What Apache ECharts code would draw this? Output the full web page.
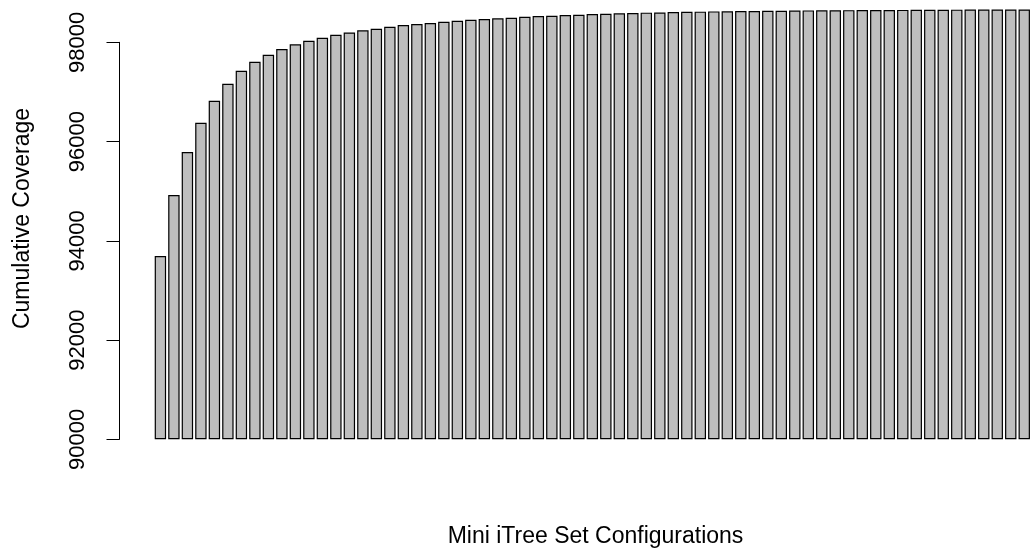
<!DOCTYPE html>
<html>
<head>
<meta charset="utf-8">
<style>
  html, body { margin: 0; padding: 0; background: #ffffff; }
  #chart { width: 1031px; height: 552px; }
</style>
<script src="https://cdn.jsdelivr.net/npm/echarts@6/dist/echarts.min.js"></script>
</head>
<body>
<div id="chart"></div>
<script>
// Cumulative coverage for each successive mini iTree set configuration
const configurations = Array.from({ length: 65 }, (_, i) => 'Config ' + (i + 1));
const cumulativeCoverage = [
  93694, 94923, 95789, 96380, 96823, 97166, 97428, 97609, 97750, 97865,
  97960, 98032, 98093, 98153, 98197, 98242, 98274, 98314, 98349, 98369,
  98389, 98415, 98435, 98455, 98470, 98484, 98496, 98516, 98530, 98536,
  98550, 98556, 98570, 98576, 98584, 98590, 98597, 98600, 98610, 98616,
  98618, 98623, 98625, 98630, 98631, 98636, 98637, 98639, 98643, 98644,
  98646, 98648, 98649, 98651, 98652, 98653, 98655, 98656, 98657, 98658,
  98659, 98660, 98661, 98662, 98662
];
const yTicks = { min: 90000, max: 98000, step: 2000 };
const xTitle = 'Mini iTree Set Configurations';
const yTitle = 'Cumulative Coverage';

// bars rise from the axis floor, so stack the visible part on an invisible base
const baseValues = cumulativeCoverage.map(() => yTicks.min);
const aboveFloor = cumulativeCoverage.map(v => v - yTicks.min);

const FONT = '"Liberation Sans", Arial, Helvetica, sans-serif';
const chart = echarts.init(document.getElementById('chart'), null, { renderer: 'canvas' });

chart.setOption({
  backgroundColor: '#ffffff',
  animation: false,
  grid: { left: 153.66, right: -11.9, top: 42.3, bottom: 112.7, containLabel: false },
  xAxis: {
    type: 'category',
    data: configurations,
    show: false,
    boundaryGap: true
  },
  yAxis: {
    type: 'value',
    min: yTicks.min,
    max: yTicks.max,
    interval: yTicks.step,
    offset: 34.16,
    axisLine: { show: true, lineStyle: { color: '#000000', width: 1 } },
    axisTick: { show: true, length: 13, lineStyle: { color: '#000000', width: 1 } },
    splitLine: { show: false },
    axisLabel: {
      rotate: 90,
      margin: 31,
      color: '#000000',
      fontFamily: FONT,
      fontSize: 22,
      formatter: v => String(v)
    }
  },
  series: [
    {
      type: 'bar',
      stack: 'coverage',
      data: baseValues,
      barWidth: 11.4,
      clip: true,
      silent: true,
      itemStyle: { color: 'rgba(0,0,0,0)', borderWidth: 0 }
    },
    {
      type: 'bar',
      stack: 'coverage',
      data: aboveFloor,
      barWidth: 11.4,
      clip: false,
      itemStyle: { color: '#bebebe', borderColor: '#000000', borderWidth: 1.2 }
    }
  ],
  graphic: [
    {
      type: 'text',
      x: 595.5, y: 537,
      style: { text: xTitle, fill: '#000000', font: '23px ' + FONT, align: 'center', verticalAlign: 'middle' }
    },
    {
      type: 'text',
      x: 23, y: 218.5,
      rotation: Math.PI / 2,
      style: { text: yTitle, fill: '#000000', font: '23px ' + FONT, align: 'center', verticalAlign: 'middle' }
    }
  ]
});
</script>
</body>
</html>
